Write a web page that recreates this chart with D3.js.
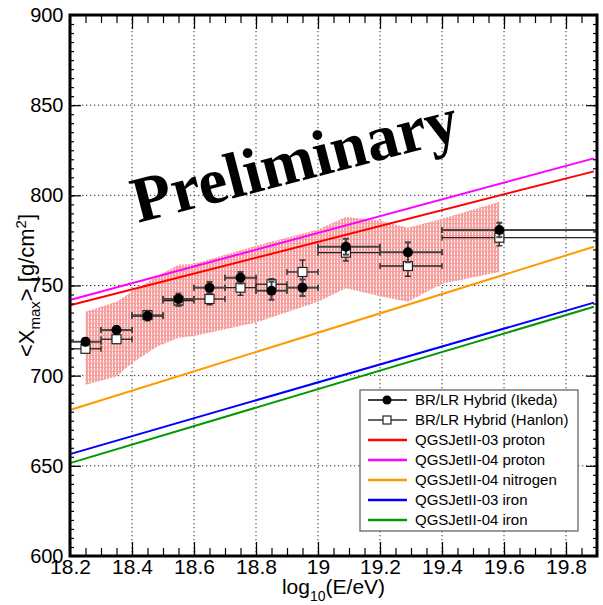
<!DOCTYPE html>
<html>
<head>
<meta charset="utf-8">
<script src="https://cdn.jsdelivr.net/npm/d3@7"></script>
<style>
  body { margin: 0; background: #fff; }
  svg { display: block; font-family: "Liberation Sans", Arial, sans-serif; }
</style>
</head>
<body>
<svg id="chart" width="603" height="605"></svg>
<script>
// bins (log10 E) and measured <Xmax>
const binCenter = [18.25, 18.35, 18.45, 18.55, 18.65, 18.75, 18.85, 18.95, 19.09, 19.29, 19.585];
const binLow    = [18.2, 18.3, 18.4, 18.5, 18.6, 18.7, 18.8, 18.9, 19.0, 19.2, 19.4];
const binHigh   = [18.3, 18.4, 18.5, 18.6, 18.7, 18.8, 18.9, 19.0, 19.2, 19.4, 19.9];

const ikedaXmax = [718.8, 725.3, 733.1, 742.5, 748.8, 754.3, 747.1, 748.8, 771.5, 768.4, 780.8];
const ikedaErr  = [2, 2, 2.5, 3, 3.2, 3.2, 5, 4.6, 4.4, 5.5, 4];
const hanlonXmax = [714.9, 720.2, 733.6, 741.6, 742.5, 748.8, 750.7, 757.5, 768.2, 760.8, 776.5];
const hanlonErr  = [2, 2, 2.5, 3, 3.2, 4.2, 3, 6.6, 4.6, 5.7, 4.5];

// systematic band
const bandE   = [18.25, 18.35, 18.4, 18.48, 18.55, 18.6, 18.8, 19.0, 19.09, 19.2, 19.29, 19.4, 19.585];
const bandUp  = [735.5, 741, 746.5, 755, 761.5, 762, 772, 781, 788, 786, 782, 787, 796.5];
const bandLow = [695, 699.5, 707, 716, 721, 722, 729.5, 741, 748.5, 744, 741, 751, 757.5];

// model predictions
const modelE = [18.2, 19.89];
const qgs03Proton = [739, 813.3];
const qgs04Proton = [742, 820.5];
const qgs04Nitrogen = [681, 771.5];
const qgs03Iron = [656.5, 740.5];
const qgs04Iron = [651.5, 738.2];

const xTicks = [18.2, 18.4, 18.6, 18.8, 19.0, 19.2, 19.4, 19.6, 19.8];
const xTickLabels = ["18.2", "18.4", "18.6", "18.8", "19", "19.2", "19.4", "19.6", "19.8"];
const yTicks = [600, 650, 700, 750, 800, 850, 900];

const legendLabels = ["BR/LR Hybrid (Ikeda)", "BR/LR Hybrid (Hanlon)", "QGSJetII-03 proton",
  "QGSJetII-04 proton", "QGSJetII-04 nitrogen", "QGSJetII-03 iron", "QGSJetII-04 iron"];

const pl = 70, pr = 597, pt = 15, pb = 556;

const x = d3.scaleLinear().domain([18.2, 19.9]).range([pl, pr]);
const y = d3.scaleLinear().domain([600, 900]).range([pb, pt]);

const svg = d3.select("#chart");

// hatch pattern for the band
const defs = svg.append("defs");
const pat = defs.append("pattern")
  .attr("id", "hatch")
  .attr("patternUnits", "userSpaceOnUse")
  .attr("width", 3).attr("height", 4);
pat.append("rect").attr("width", 3).attr("height", 4).attr("fill", "#f7a0a0");
pat.append("rect").attr("x", 1).attr("width", 1).attr("height", 3).attr("fill", "#fff").attr("opacity", 0.8);

// grid
const grid = svg.append("g")
  .attr("stroke", "#333")
  .attr("stroke-width", 1)
  .attr("stroke-dasharray", "1.3,2.7");
grid.selectAll(".gx")
  .data(xTicks.slice(1))
  .enter().append("line")
  .attr("x1", d => x(d)).attr("x2", d => x(d))
  .attr("y1", pt).attr("y2", pb);
grid.selectAll(".gy")
  .data(yTicks.slice(1, -1))
  .enter().append("line")
  .attr("x1", pl).attr("x2", pr)
  .attr("y1", d => y(d)).attr("y2", d => y(d));

// band
const bandPts = bandE.map((e, i) => [e, bandUp[i]])
  .concat(bandE.map((e, i) => [e, bandLow[i]]).reverse());
svg.append("path")
  .attr("d", d3.line().x(d => x(d[0])).y(d => y(d[1]))(bandPts) + "Z")
  .attr("fill", "url(#hatch)");

// model lines
const models = [
  { v: qgs03Proton, c: "#ff0000" },
  { v: qgs04Proton, c: "#ff00ff" },
  { v: qgs04Nitrogen, c: "#ff9900" },
  { v: qgs03Iron, c: "#0000ff" },
  { v: qgs04Iron, c: "#009900" }
];
svg.selectAll(".model")
  .data(models)
  .enter().append("path")
  .attr("fill", "none")
  .attr("stroke", d => d.c)
  .attr("stroke-width", 2)
  .attr("d", d => d3.line().x((v, i) => x(modelE[i])).y(v => y(v))(d.v));

// error bars
function errorBars(vals, errs, color, width) {
  const g = svg.append("g").attr("stroke", color).attr("stroke-width", width).attr("fill", "none");
  binCenter.forEach((e, i) => {
    const cy = y(vals[i]);
    g.append("line").attr("x1", x(binLow[i])).attr("x2", x(binHigh[i])).attr("y1", cy).attr("y2", cy);
    g.append("line").attr("x1", x(binLow[i])).attr("x2", x(binLow[i])).attr("y1", cy - 3).attr("y2", cy + 3);
    g.append("line").attr("x1", x(binHigh[i])).attr("x2", x(binHigh[i])).attr("y1", cy - 3).attr("y2", cy + 3);
    const y1 = y(vals[i] + errs[i]), y2 = y(vals[i] - errs[i]);
    g.append("line").attr("x1", x(e)).attr("x2", x(e)).attr("y1", y1).attr("y2", y2);
    g.append("line").attr("x1", x(e) - 3).attr("x2", x(e) + 3).attr("y1", y1).attr("y2", y1);
    g.append("line").attr("x1", x(e) - 3).attr("x2", x(e) + 3).attr("y1", y2).attr("y2", y2);
  });
}

errorBars(hanlonXmax, hanlonErr, "#222", 1.3);
svg.selectAll(".sq")
  .data(binCenter)
  .enter().append("rect")
  .attr("x", (d, i) => x(d) - 4.5)
  .attr("y", (d, i) => y(hanlonXmax[i]) - 4.5)
  .attr("width", 9).attr("height", 9)
  .attr("fill", "#fff").attr("stroke", "#222").attr("stroke-width", 1.2);

errorBars(ikedaXmax, ikedaErr, "#444", 2);
svg.selectAll(".dot")
  .data(binCenter)
  .enter().append("circle")
  .attr("cx", d => x(d))
  .attr("cy", (d, i) => y(ikedaXmax[i]))
  .attr("r", 5)
  .attr("fill", "#000");

// Preliminary
svg.append("text")
  .attr("transform", "translate(300,181) rotate(-14.5)")
  .attr("text-anchor", "middle")
  .attr("font-family", "'Liberation Serif', 'Times New Roman', serif")
  .attr("font-weight", "bold")
  .attr("font-size", 65)
  .text("Preliminary");

// axes (ticks inside the frame)
const minorX = d3.range(18.25, 19.9, 0.05);
const minorY = d3.range(605, 900, 5);
const axB = svg.append("g").attr("transform", `translate(0,${pb})`)
  .call(d3.axisBottom(x).tickValues(xTicks).tickSize(-14).tickPadding(3)
    .tickFormat((d, i) => xTickLabels[i]));
svg.append("g").attr("transform", `translate(0,${pb})`)
  .call(d3.axisBottom(x).tickValues(minorX).tickSize(-8).tickFormat(""));
svg.append("g").attr("transform", `translate(0,${pt})`)
  .call(d3.axisTop(x).tickValues(xTicks).tickSize(-14).tickFormat(""));
svg.append("g").attr("transform", `translate(0,${pt})`)
  .call(d3.axisTop(x).tickValues(minorX).tickSize(-8).tickFormat(""));

const axL = svg.append("g").attr("transform", `translate(${pl},0)`)
  .call(d3.axisLeft(y).tickValues(yTicks).tickSize(-11).tickPadding(6.5));
svg.append("g").attr("transform", `translate(${pl},0)`)
  .call(d3.axisLeft(y).tickValues(minorY).tickSize(-4).tickFormat(""));
svg.append("g").attr("transform", `translate(${pr},0)`)
  .call(d3.axisRight(y).tickValues(yTicks).tickSize(-11).tickFormat(""));
svg.append("g").attr("transform", `translate(${pr},0)`)
  .call(d3.axisRight(y).tickValues(minorY).tickSize(-4).tickFormat(""));

svg.selectAll(".domain").remove();
svg.selectAll(".tick line").attr("stroke", "#000").attr("stroke-width", 1.2);
axB.selectAll("text").attr("font-size", 21).attr("fill", "#000")
  .attr("font-family", "'Liberation Sans', Arial, sans-serif");
axL.selectAll("text").attr("font-size", 20).attr("fill", "#000")
  .attr("font-family", "'Liberation Sans', Arial, sans-serif");

// frame
svg.append("rect")
  .attr("x", pl).attr("y", pt)
  .attr("width", pr - pl).attr("height", pb - pt)
  .attr("fill", "none").attr("stroke", "#000").attr("stroke-width", 3);

// axis titles
const xt = svg.append("text")
  .attr("x", (pl + pr) / 2).attr("y", 594)
  .attr("text-anchor", "middle")
  .attr("font-size", 21);
xt.append("tspan").text("log");
xt.append("tspan").attr("font-size", 14).attr("dy", 7).text("10");
xt.append("tspan").attr("dy", -7).text("(E/eV)");

const yt = svg.append("text")
  .attr("transform", `translate(34,${(pt + pb) / 2}) rotate(-90)`)
  .attr("text-anchor", "middle")
  .attr("font-size", 22);
yt.append("tspan").text("<X");
yt.append("tspan").attr("font-size", 15).attr("dy", 6).text("max");
yt.append("tspan").attr("dy", -6).text("> [g/cm");
yt.append("tspan").attr("font-size", 15).attr("dy", -8).text("2");
yt.append("tspan").attr("dy", 8).text("]");

// legend
const lg = svg.append("g");
lg.append("rect")
  .attr("x", 360).attr("y", 390).attr("width", 218).attr("height", 141)
  .attr("fill", "#fff").attr("stroke", "#666").attr("stroke-width", 1.3);
const legStyle = [
  { c: "#000", w: 1.3, m: "dot" },
  { c: "#333", w: 1.3, m: "sq" },
  { c: "#ff0000", w: 2.5 },
  { c: "#ff00ff", w: 2.5 },
  { c: "#ff9900", w: 2.5 },
  { c: "#0000ff", w: 2.5 },
  { c: "#009900", w: 2.5 }
];
legendLabels.forEach((lab, i) => {
  const cy = 400 + i * 20;
  const s = legStyle[i];
  lg.append("line").attr("x1", 368).attr("x2", 407).attr("y1", cy).attr("y2", cy)
    .attr("stroke", s.c).attr("stroke-width", s.w);
  if (s.m === "dot") {
    lg.append("circle").attr("cx", 387).attr("cy", cy).attr("r", 4.5).attr("fill", "#000");
  } else if (s.m === "sq") {
    lg.append("rect").attr("x", 383).attr("y", cy - 4).attr("width", 8).attr("height", 8)
      .attr("fill", "#fff").attr("stroke", "#222").attr("stroke-width", 1.2);
  }
  lg.append("text").attr("x", 415).attr("y", cy).attr("dy", "0.35em")
    .attr("font-size", 15).text(lab);
});
</script>
</body>
</html>
